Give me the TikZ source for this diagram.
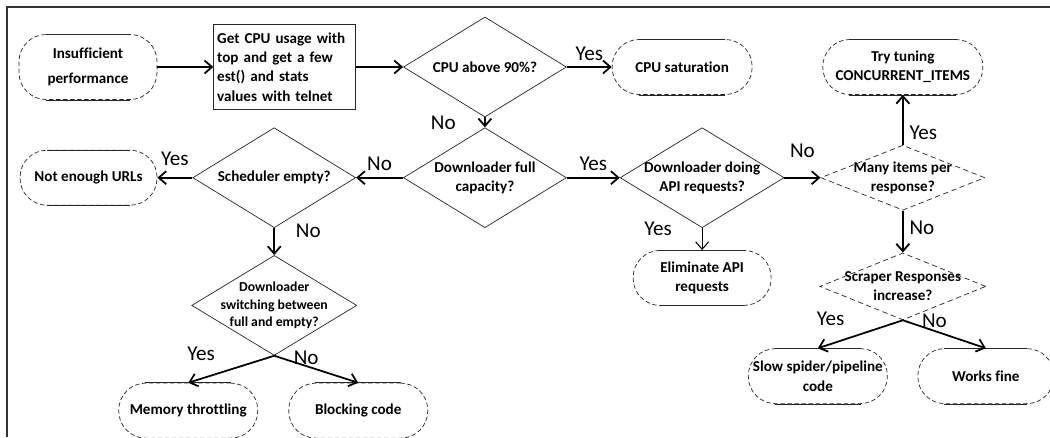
\documentclass[tikz,border=0pt]{standalone}
\usepackage{fontspec}
\setmainfont{Carlito}[Ligatures=NoCommon]
\usetikzlibrary{positioning, arrows.meta, shapes.geometric}

\newcommand{\boxfont}{\fontsize{8.6}{11}\selectfont\bfseries}
\newcommand{\lblfont}{\fontsize{12}{14}\selectfont}

\begin{document}
\begin{tikzpicture}[
  term/.style={rectangle, draw=black!85, thin, dash pattern=on 2.5pt off 1.5pt,
               rounded corners=0.54cm, minimum width=2.76cm, minimum height=1.1cm,
               inner xsep=1pt, align=center, font=\boxfont},
  process/.style={rectangle, draw=black!85, thin, text width=2.7cm, inner xsep=2pt,
                  minimum height=1.7cm, align=left, font=\boxfont},
  decision/.style={diamond, draw=black!85, thin, inner sep=0pt,
                   minimum width=3.26cm, minimum height=2cm},
  dtext/.style={align=center, font=\boxfont, inner sep=0pt},
  arrow/.style={-{Straight Barb[length=1.5mm, width=2.6mm]}, line width=1pt},
  lbl/.style={font=\lblfont},
  flat/.style={solid, thin, draw=black!85},
  frame/.style={line width=1pt, black!80},
]
  \useasboundingbox (0,0) rectangle (21,-8.74);

  \node[term, minimum height=1.3cm] (perf) at (1.76,-1.34) {Insufficient\\[3pt]performance};
  \node[process, right=1.12cm of perf] (getcpu)
       {Get CPU usage with\\top and get a few\\est() and stats\\values with telnet};
  \node[decision, right=0.94cm of getcpu,
        label={[dtext]center:CPU above 90\%?}] (cpu) {};
  \node[term, right=0.9cm of cpu, minimum width=2.8cm] (sat) {CPU saturation};
  \node[decision, below=0.2cm of cpu,
        label={[dtext]center:Downloader full\\capacity?}] (full) {};
  \node[decision, right=1.06cm of full, minimum width=3.28cm,
        label={[dtext]center:Downloader doing\\API requests?}] (api) {};
  \node[decision, densely dashed, right=0.72cm of api, minimum width=3.28cm,
        minimum height=1.3cm, label={[dtext]center:Many items per\\response?}] (many) {};
  \node[term, above=1.0cm of many, minimum width=3.2cm] (tune) {Try tuning\\CONCURRENT\_ITEMS};
  \node[decision, densely dashed, below=0.84cm of many, minimum width=3.32cm,
        minimum height=1.34cm, label={[dtext]center:Scraper Responses\\increase?}] (scraper) {};
  \node[term, below=0.56cm of scraper, xshift=-1.7cm, minimum width=2.78cm] (slow)
       {Slow spider/pipeline\\code};
  \node[term, below=0.56cm of scraper, xshift=1.66cm, minimum width=2.72cm] (works) {Works fine};
  \node[term, below=0.44cm of api] (elim) {Eliminate API\\requests};

  \node[decision, left=0.94cm of full,
        label={[dtext]center:Scheduler empty?}] (sched) {};
  \node[term, left=0.7cm of sched, minimum width=2.74cm] (urls) {Not enough URLs};
  \node[decision, below=0.54cm of sched, minimum width=3.3cm,
        label={[dtext, font=\fontsize{7.8}{10}\selectfont\bfseries]center:Downloader\\switching between\\full and empty?}] (switch) {};
  \node[term, below=0.54cm of switch, xshift=-1.72cm, minimum width=2.78cm] (mem) {Memory throttling};
  \node[term, below=0.54cm of switch, xshift=1.68cm, minimum width=2.78cm] (block) {Blocking code};

  % solid top and bottom of the terminals
  \foreach \nd in {perf, sat, tune, elim, urls, slow, works, mem, block}
    \draw[flat] ([xshift=0.54cm]\nd.north west) -- ([xshift=-0.54cm]\nd.north east)
                ([xshift=0.54cm]\nd.south west) -- ([xshift=-0.54cm]\nd.south east);

  \draw[arrow] (perf) -- (getcpu);
  \draw[arrow] (getcpu) -- (cpu);
  \draw[arrow] (cpu) -- node[lbl, above] (y1) {Yes} (sat);
  \draw[arrow] (cpu) -- node[lbl, left=0.45cm] (n1) {No} (full);
  \draw[arrow] (full) -- node[lbl, above] (y2) {Yes} (api);
  \draw[arrow] (api) -- node[lbl, above=0.26cm] (n2) {No} (many);
  \draw[arrow] (many) -- node[lbl, right, pos=0.25] (y3) {Yes} (tune);
  \draw[arrow] (many) -- node[lbl, right, pos=0.4] (n3) {No} (scraper);
  \draw[arrow] (scraper.south) -- node[lbl, pos=0.85, yshift=0.5cm] (y4) {Yes} (slow.north);
  \draw[arrow] (scraper.south) -- node[lbl, pos=0.38, yshift=0.2cm] (n4) {No} (works.north);
  \draw[arrow, line width=0.6pt] (api) -- node[lbl, left=0.48cm, pos=0.05] (y5) {Yes} (elim);
  \draw[arrow] (full) -- node[lbl, above] (n5) {No} (sched);
  \draw[arrow] (sched) -- node[lbl, above=0.1cm] (y6) {Yes} (urls);
  \draw[arrow] (sched) -- node[lbl, right=0.3cm, pos=0.1] (n6) {No} (switch);
  \draw[arrow] (switch.south) -- node[lbl, pos=0.85, yshift=0.5cm] (y7) {Yes} (mem.north);
  \draw[arrow] (switch.south) -- node[lbl, pos=0.38, yshift=0.16cm] (n7) {No} (block.north);

  \draw[frame] (21,-0.14) -| (0.14,-8.74);
\end{tikzpicture}
\end{document}
